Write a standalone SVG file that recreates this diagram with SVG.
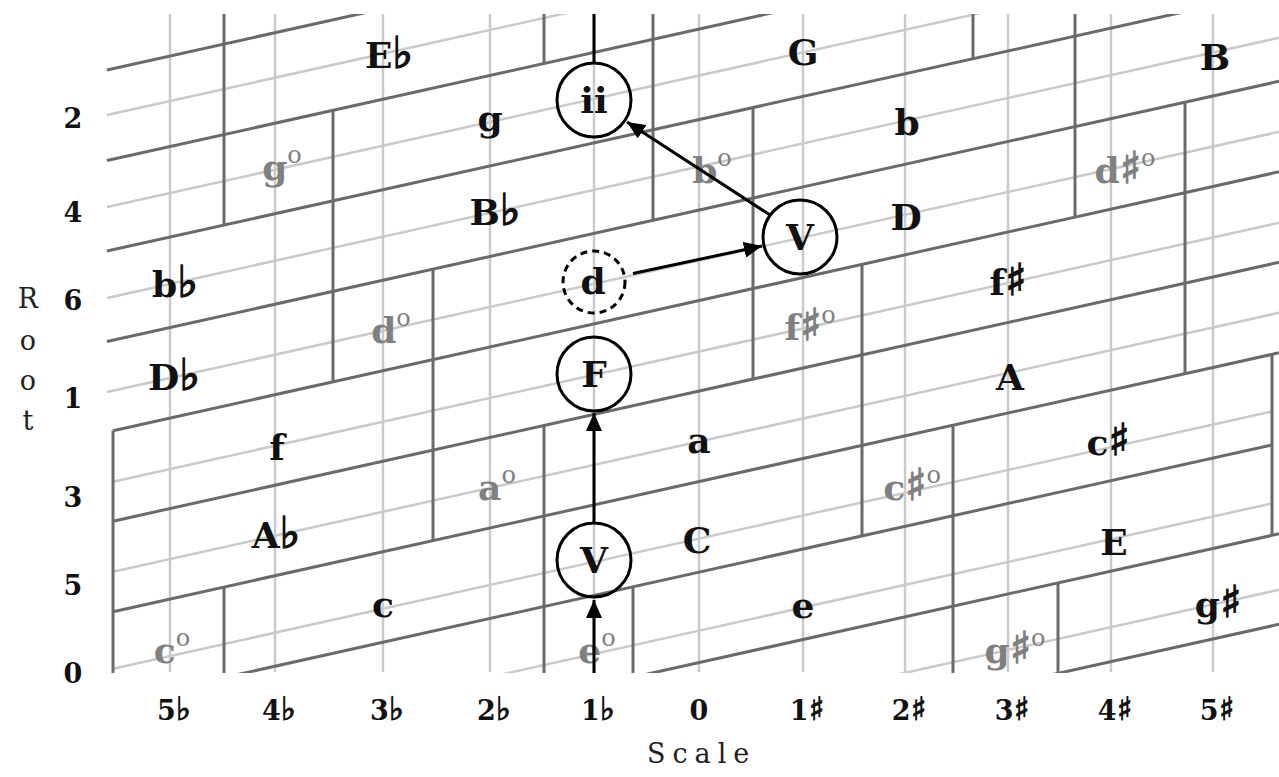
<svg xmlns="http://www.w3.org/2000/svg" width="1279" height="777" viewBox="0 0 1279 777">
<defs>
<clipPath id="gridclip"><rect x="105" y="14" width="1174" height="659"/></clipPath>
<marker id="ah" markerUnits="userSpaceOnUse" markerWidth="20" markerHeight="16" refX="18" refY="8" orient="auto"><path d="M0,0 L18,8 L0,16 z" fill="#000"/></marker>
<style>
.lt{stroke:#cacaca;stroke-width:2.5;fill:none}
.dk{stroke:#6a6a6a;stroke-width:3;fill:none}
.ch{font-family:"DejaVu Serif",serif;font-weight:bold;font-size:36px;fill:#111;text-anchor:middle}
.dim{font-family:"DejaVu Serif",serif;font-weight:bold;font-size:36px;fill:#808080;text-anchor:middle}
.acc{font-family:"DejaVu Sans",sans-serif;font-size:44px;stroke-width:1.4}
.ch .acc{stroke:#111}
.dim .acc{stroke:#808080}
.sup{font-size:24px;font-weight:normal}
.ax{font-family:"DejaVu Serif",serif;font-weight:bold;font-size:27px;fill:#111;text-anchor:middle}
.axacc{font-family:"DejaVu Sans",sans-serif;font-size:32px;stroke:#111;stroke-width:1}
.ttl{font-family:"DejaVu Serif",serif;font-size:27px;fill:#222}
.cir{fill:none;stroke:#000;stroke-width:3}
.con{stroke:#000;stroke-width:3;fill:none}
</style>
</defs>
<rect width="1279" height="777" fill="#fff"/>
<g id="grid" clip-path="url(#gridclip)">
<g id="columns" class="lt">
<line x1="170" y1="14" x2="170" y2="672"/><line x1="275" y1="14" x2="275" y2="672"/><line x1="383" y1="14" x2="383" y2="672"/><line x1="490" y1="14" x2="490" y2="672"/><line x1="594" y1="14" x2="594" y2="672"/><line x1="699" y1="14" x2="699" y2="672"/><line x1="803" y1="14" x2="803" y2="672"/><line x1="905" y1="14" x2="905" y2="672"/><line x1="1008" y1="14" x2="1008" y2="672"/><line x1="1111" y1="14" x2="1111" y2="672"/><line x1="1213" y1="14" x2="1213" y2="672"/>
</g>
<g id="rootlines" class="lt">
<line x1="113" y1="848.7" x2="1279" y2="589.8"/>
<line x1="113" y1="760.7" x2="1272" y2="503.4"/>
<line x1="113" y1="668.7" x2="1272" y2="411.4"/>
<line x1="113" y1="571.7" x2="1279" y2="312.8"/>
<line x1="113" y1="481.7" x2="1279" y2="222.8"/>
<line x1="107" y1="392" x2="1279" y2="131.8"/>
<line x1="107" y1="298" x2="1279" y2="37.8"/>
<line x1="107" y1="207" x2="1279" y2="-53.2"/>
<line x1="107" y1="115" x2="1279" y2="-145.2"/>
</g>
<g id="boundaries" class="dk">
<line x1="113" y1="883.2" x2="1279" y2="624.3"/>
<line x1="113" y1="792.7" x2="1279" y2="533.8"/>
<line x1="113" y1="702.2" x2="1272" y2="444.9"/>
<line x1="113" y1="611.7" x2="1279" y2="352.8"/>
<line x1="113" y1="521.2" x2="1279" y2="262.3"/>
<line x1="113" y1="430.7" x2="1279" y2="171.8"/>
<line x1="107" y1="341.5" x2="1279" y2="81.3"/>
<line x1="107" y1="251" x2="1279" y2="-9.2"/>
<line x1="107" y1="160.5" x2="1279" y2="-99.7"/>
<line x1="107" y1="70" x2="1279" y2="-190.2"/>
<line x1="113" y1="430.7" x2="113" y2="673"/>
<line x1="224" y1="14" x2="224" y2="226"/>
<line x1="224" y1="587" x2="224" y2="673"/>
<line x1="333" y1="110.3" x2="333" y2="381.8"/>
<line x1="433" y1="269" x2="433" y2="540.6"/>
<line x1="544" y1="14" x2="544" y2="63.5"/>
<line x1="544" y1="425.5" x2="544" y2="673"/>
<line x1="653" y1="14" x2="653" y2="220"/>
<line x1="633" y1="586.7" x2="633" y2="673"/>
<line x1="753" y1="107.6" x2="753" y2="379"/>
<line x1="862" y1="264.4" x2="862" y2="536"/>
<line x1="973" y1="14" x2="973" y2="58.7"/>
<line x1="953" y1="425" x2="953" y2="673"/>
<line x1="1075" y1="14" x2="1075" y2="217"/>
<line x1="1058" y1="583" x2="1058" y2="673"/>
<line x1="1185" y1="102" x2="1185" y2="373.7"/>
<line x1="1272" y1="354" x2="1272" y2="535.4"/>
</g>
</g>
<g id="chord-labels">
<text class="ch" x="389" y="68">E<tspan class="acc">♭</tspan></text>
<text class="ch" x="803" y="65">G</text>
<text class="ch" x="1215" y="70">B</text>
<text class="ch" x="490" y="131">g</text>
<text class="ch" x="907" y="135">b</text>
<text class="ch" x="495" y="225">B<tspan class="acc">♭</tspan></text>
<text class="ch" x="906" y="230">D</text>
<text class="ch" x="175" y="297">b<tspan class="acc">♭</tspan></text>
<text class="ch" x="1008" y="295">f<tspan class="acc">♯</tspan></text>
<text class="ch" x="174" y="390">D<tspan class="acc">♭</tspan></text>
<text class="ch" x="1010" y="390">A</text>
<text class="ch" x="277" y="460">f</text>
<text class="ch" x="699" y="453">a</text>
<text class="ch" x="1108" y="455">c<tspan class="acc">♯</tspan></text>
<text class="ch" x="276" y="548">A<tspan class="acc">♭</tspan></text>
<text class="ch" x="697" y="553">C</text>
<text class="ch" x="1114" y="555">E</text>
<text class="ch" x="383" y="617">c</text>
<text class="ch" x="803" y="618">e</text>
<text class="ch" x="1218" y="617">g<tspan class="acc">♯</tspan></text>
<text class="dim" x="282" y="180">g<tspan class="sup" dy="-17">o</tspan></text>
<text class="dim" x="712" y="183">b<tspan class="sup" dy="-17">o</tspan></text>
<text class="dim" x="1125" y="183">d<tspan class="acc">♯</tspan><tspan class="sup" dy="-17">o</tspan></text>
<text class="dim" x="391" y="343">d<tspan class="sup" dy="-17">o</tspan></text>
<text class="dim" x="810" y="340">f<tspan class="acc">♯</tspan><tspan class="sup" dy="-17">o</tspan></text>
<text class="dim" x="497" y="500">a<tspan class="sup" dy="-17">o</tspan></text>
<text class="dim" x="912" y="500">c<tspan class="acc">♯</tspan><tspan class="sup" dy="-17">o</tspan></text>
<text class="dim" x="172" y="663">c<tspan class="sup" dy="-17">o</tspan></text>
<text class="dim" x="597" y="663">e<tspan class="sup" dy="-17">o</tspan></text>
<text class="dim" x="1015" y="663">g<tspan class="acc">♯</tspan><tspan class="sup" dy="-17">o</tspan></text>
</g>
<g id="connectors">
<line class="con" x1="594" y1="14" x2="594" y2="63"/>
<line class="con" x1="594" y1="673" x2="594" y2="600" marker-end="url(#ah)"/>
<line class="con" x1="594" y1="523" x2="594" y2="413" marker-end="url(#ah)"/>
<line class="con" x1="770" y1="215" x2="627" y2="122" marker-end="url(#ah)"/>
<line class="con" x1="633" y1="273.5" x2="762" y2="246" marker-end="url(#ah)"/>
</g>
<g id="node-ii"><circle class="cir" cx="594" cy="100" r="37"/><text class="ch" x="594" y="113">ii</text></g>
<g id="node-V-D"><circle class="cir" cx="800" cy="237" r="37"/><text class="ch" x="800" y="250">V</text></g>
<g id="node-d"><circle class="cir" cx="594" cy="282" r="31" stroke-dasharray="7 5"/><text class="ch" x="593" y="294">d</text></g>
<g id="node-F"><circle class="cir" cx="594" cy="374" r="37"/><text class="ch" x="594" y="387">F</text></g>
<g id="node-V-C"><circle class="cir" cx="594" cy="560" r="37"/><text class="ch" x="594" y="573">V</text></g>
<g id="root-axis">
<text class="ax" x="73" y="128">2</text>
<text class="ax" x="73" y="222">4</text>
<text class="ax" x="73" y="310">6</text>
<text class="ax" x="73" y="408">1</text>
<text class="ax" x="73" y="507">3</text>
<text class="ax" x="73" y="595">5</text>
<text class="ax" x="73" y="683">0</text>
<g class="ttl" text-anchor="middle">
<text x="28" y="308">R</text><text x="28" y="350">o</text><text x="28" y="390">o</text><text x="28" y="430">t</text>
</g>
</g>
<g id="scale-axis">
<text class="ax" x="174" y="720">5<tspan class="axacc">♭</tspan></text>
<text class="ax" x="279" y="720">4<tspan class="axacc">♭</tspan></text>
<text class="ax" x="387" y="720">3<tspan class="axacc">♭</tspan></text>
<text class="ax" x="494" y="720">2<tspan class="axacc">♭</tspan></text>
<text class="ax" x="598" y="720">1<tspan class="axacc">♭</tspan></text>
<text class="ax" x="699" y="720">0</text>
<text class="ax" x="807" y="720">1<tspan class="axacc">♯</tspan></text>
<text class="ax" x="909" y="720">2<tspan class="axacc">♯</tspan></text>
<text class="ax" x="1012" y="720">3<tspan class="axacc">♯</tspan></text>
<text class="ax" x="1115" y="720">4<tspan class="axacc">♯</tspan></text>
<text class="ax" x="1217" y="720">5<tspan class="axacc">♯</tspan></text>
<text class="ttl" x="647" y="763" letter-spacing="7">Scale</text>
</g>
</svg>
